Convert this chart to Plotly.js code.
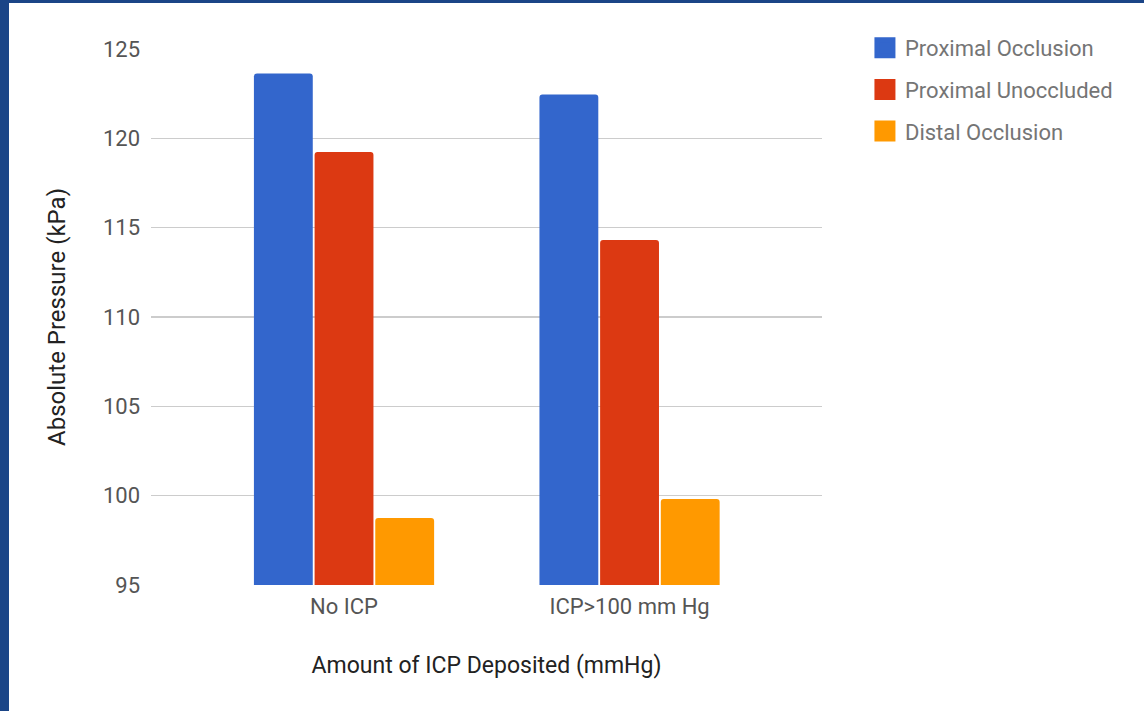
<!DOCTYPE html>
<html>
<head>
<meta charset="utf-8">
<script src="https://cdn.plot.ly/plotly-3.0.1.min.js"></script>
<style>
  html, body { margin: 0; padding: 0; background: #1b4587; width: 1144px; height: 711px; overflow: hidden; }
  #chart { position: absolute; left: 9px; top: 3px; width: 1135px; height: 708px; background: #ffffff; }
</style>
</head>
<body>
<div id="chart"></div>
<script>
// Pressure readings (kPa) for each ICP condition
const categories = ["No ICP", "ICP>100 mm Hg"];
const seriesNames = ["Proximal Occlusion", "Proximal Unoccluded", "Distal Occlusion"];
const proximalOcclusion = [123.63, 122.45];
const proximalUnoccluded = [119.24, 114.31];
const distalOcclusion = [98.75, 99.82];
const yTicks = [95, 100, 105, 110, 115, 120, 125];

const colors = ["#3366cc", "#dc3912", "#ff9900"];
const seriesValues = [proximalOcclusion, proximalUnoccluded, distalOcclusion];
const font = "Roboto, Arial, sans-serif";

const traces = [];
seriesValues.forEach((vals, i) => {
  traces.push({
    type: "bar",
    x: categories,
    y: vals,
    name: seriesNames[i],
    showlegend: false,
    marker: { color: colors[i], cornerradius: 3, line: { width: 0 } },
    hoverinfo: "x+y+name"
  });
});
// Legend entries drawn as large square swatches
seriesValues.forEach((vals, i) => {
  traces.push({
    type: "scatter",
    mode: "markers",
    x: [null],
    y: [null],
    name: seriesNames[i],
    legendgroup: "g" + i,
    marker: { symbol: "square", size: 16, color: colors[i], line: { width: 5, color: colors[i] } },
    hoverinfo: "skip"
  });
});

const layout = {
  width: 1135,
  height: 708,
  margin: { l: 142, r: 322, t: 46, b: 126, pad: 0 },
  paper_bgcolor: "#ffffff",
  plot_bgcolor: "#ffffff",
  font: { family: font, size: 22, color: "#666666" },
  barmode: "group",
  bargap: 0.3625,
  bargroupgap: 0.03,
  xaxis: {
    type: "category",
    range: [-0.676, 1.674],
    showgrid: false,
    zeroline: false,
    showline: false,
    ticks: "",
    ticklabelstandoff: 6,
    tickfont: { family: font, size: 22, color: "#555555" },
    title: { text: "Amount of ICP Deposited (mmHg)", standoff: 38, font: { family: font, size: 23, color: "#222222" } },
    fixedrange: true
  },
  yaxis: {
    range: [95, 125],
    tickvals: yTicks,
    ticktext: yTicks.map(String),
    showgrid: true,
    gridcolor: "#cccccc",
    gridwidth: 1.5,
    zeroline: false,
    showline: false,
    ticks: "",
    ticklabelstandoff: 10,
    tickfont: { family: font, size: 22, color: "#555555" },
    title: { text: "Absolute Pressure (kPa)", standoff: 30, font: { family: font, size: 24, color: "#222222" } },
    fixedrange: true
  },
  legend: {
    x: 1.064,
    xanchor: "left",
    y: 1.041,
    yanchor: "top",
    traceorder: "grouped",
    tracegroupgap: 10,
    itemsizing: "trace",
    font: { family: font, size: 22, color: "#757575" },
    bgcolor: "rgba(0,0,0,0)"
  },
  showlegend: true
};

Plotly.newPlot("chart", traces, layout, { displayModeBar: false, staticPlot: true });
</script>
</body>
</html>
